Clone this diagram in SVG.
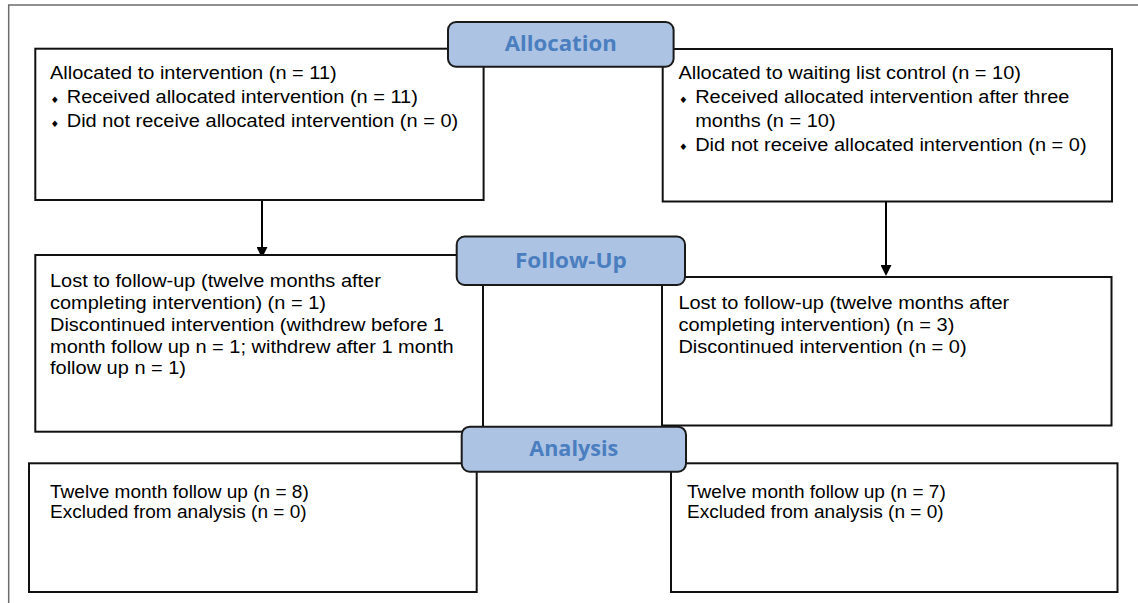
<svg xmlns="http://www.w3.org/2000/svg" width="1138" height="603" viewBox="0 0 1138 603">
  <style>
    .box { fill: #ffffff; stroke: #111111; stroke-width: 2; }
    .tab { fill: #adc3e4; stroke: #1a1a1a; stroke-width: 2; }
    .hdr { font-family: "Open Sans", "Liberation Sans", sans-serif; font-weight: 700; font-size: 21px; fill: #4a7ebf; text-anchor: middle; }
    .t { font-family: "Liberation Sans", Arial, sans-serif; font-size: 18.5px; fill: #000000; }
    .b { font-family: "DejaVu Sans", sans-serif; font-size: 9px; fill: #000000; }
    .con { fill: none; stroke: #000000; stroke-width: 2; }
    .frame { fill: none; stroke: #6b6b6b; stroke-width: 1.5; }
  </style>
  <defs>
    <marker id="arr" viewBox="0 0 11 11" markerWidth="11" markerHeight="11" refX="9" refY="5.5" orient="auto" markerUnits="userSpaceOnUse">
      <path d="M0,0 L11,5.5 L0,11 z" fill="#000000"/>
    </marker>
  </defs>

  <rect width="1138" height="603" fill="#ffffff"/>
  <path class="frame" d="M8.7,603 V5 H1138"/>

  <g id="connectors">
    <line class="con" x1="262" y1="200" x2="262" y2="256" marker-end="url(#arr)"/>
    <line class="con" x1="886" y1="201.5" x2="886" y2="274" marker-end="url(#arr)"/>
  </g>

  <g id="alloc-intervention">
    <rect class="box" x="35.3" y="48.7" width="448.3" height="151.3"/>
    <g transform="translate(50,0) scale(1.08,1)">
      <text class="t" x="0" y="79.5">Allocated to intervention (n = 11)</text>
      <text class="b" x="0.5" y="103.2">♦</text>
      <text class="t" x="15.5" y="103.5">Received allocated intervention (n = 11)</text>
      <text class="b" x="0.5" y="127.2">♦</text>
      <text class="t" x="15.5" y="127.5">Did not receive allocated intervention (n = 0)</text>
    </g>
  </g>

  <g id="alloc-control">
    <rect class="box" x="662.7" y="49" width="449.3" height="152.5"/>
    <g transform="translate(678.4,0) scale(1.08,1)">
      <text class="t" x="0" y="79.5">Allocated to waiting list control (n = 10)</text>
      <text class="b" x="0.5" y="102.9">♦</text>
      <text class="t" x="15.5" y="103.2">Received allocated intervention after three</text>
      <text class="t" x="15.5" y="127">months (n = 10)</text>
      <text class="b" x="0.5" y="150.4">♦</text>
      <text class="t" x="15.5" y="150.7">Did not receive allocated intervention (n = 0)</text>
    </g>
  </g>

  <g id="followup-intervention">
    <rect class="box" x="35.3" y="255" width="447.7" height="176.7"/>
    <g transform="translate(50,0) scale(1.08,1)">
      <text class="t" x="0" y="287.5">Lost to follow-up (twelve months after</text>
      <text class="t" x="0" y="309.2">completing intervention) (n = 1)</text>
      <text class="t" x="0" y="330.9">Discontinued intervention (withdrew before 1</text>
      <text class="t" x="0" y="352.6">month follow up n = 1; withdrew after 1 month</text>
      <text class="t" x="0" y="374.3">follow up n = 1)</text>
    </g>
  </g>

  <g id="followup-control">
    <rect class="box" x="662" y="277" width="449.5" height="148.5"/>
    <g transform="translate(678.4,0) scale(1.08,1)">
      <text class="t" x="0" y="309.5">Lost to follow-up (twelve months after</text>
      <text class="t" x="0" y="331.2">completing intervention) (n = 3)</text>
      <text class="t" x="0" y="352.9">Discontinued intervention (n = 0)</text>
    </g>
  </g>

  <g id="analysis-intervention">
    <rect class="box" x="29" y="463.3" width="447.7" height="128.7"/>
    <g transform="translate(50,0) scale(1.03,1)">
      <text class="t" x="0" y="498.3">Twelve month follow up (n = 8)</text>
      <text class="t" x="0" y="518.3">Excluded from analysis (n = 0)</text>
    </g>
  </g>

  <g id="analysis-control">
    <rect class="box" x="671" y="463.3" width="446.5" height="128.7"/>
    <g transform="translate(687,0) scale(1.03,1)">
      <text class="t" x="0" y="498.3">Twelve month follow up (n = 7)</text>
      <text class="t" x="0" y="518.3">Excluded from analysis (n = 0)</text>
    </g>
  </g>

  <g id="tab-allocation">
    <rect class="tab" x="448" y="22" width="225.6" height="44.7" rx="8" ry="8"/>
    <text class="hdr" x="560.8" y="51" textLength="112" lengthAdjust="spacingAndGlyphs">Allocation</text>
  </g>

  <g id="tab-followup">
    <rect class="tab" x="456.7" y="236.5" width="228.3" height="48.5" rx="8" ry="8"/>
    <text class="hdr" x="570.9" y="267.5" textLength="112" lengthAdjust="spacingAndGlyphs">Follow-Up</text>
  </g>

  <g id="tab-analysis">
    <rect class="tab" x="461.7" y="426.7" width="224.3" height="45" rx="8" ry="8"/>
    <text class="hdr" x="573.8" y="455.5" textLength="89" lengthAdjust="spacingAndGlyphs">Analysis</text>
  </g>
</svg>
